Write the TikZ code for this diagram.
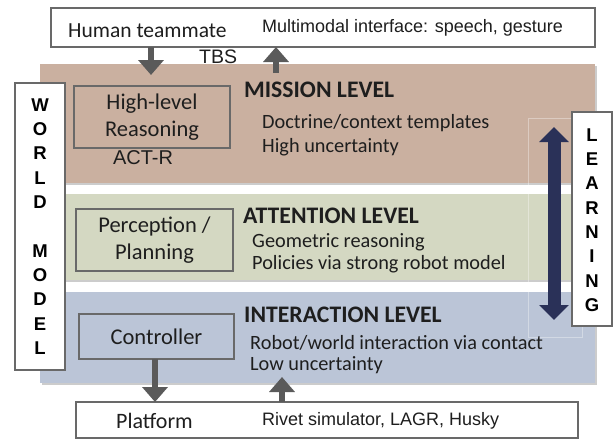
\documentclass[tikz,border=0pt]{standalone}
\usepackage{fontspec}
\setmainfont{Liberation Sans}
\newfontfamily\calfont{Carlito}
\usetikzlibrary{arrows.meta,shadows}

\definecolor{missionfill}{RGB}{202,176,160}
\definecolor{attentionfill}{RGB}{212,216,194}
\definecolor{interactionfill}{RGB}{187,197,215}
\definecolor{framegray}{RGB}{105,105,105}
\definecolor{arrowgray}{RGB}{90,90,90}
\definecolor{learnnavy}{RGB}{42,49,88}
\definecolor{inktext}{RGB}{30,30,30}

\tikzset{
  band/.style={draw=none, inner sep=0pt, outer sep=0pt, anchor=north west,
    drop shadow={shadow xshift=1.5pt, shadow yshift=-2pt, opacity=0.2, fill=black}},
  whitebox/.style={draw=framegray, line width=1.4pt, fill=white, inner sep=0pt,
    outer sep=0pt, anchor=north west},
  unitbox/.style={draw=framegray, line width=1.4pt, inner sep=0pt, outer sep=0pt,
    anchor=north west},
  unitlabel/.style={font=\calfont\fontsize{22.5}{26.5}\selectfont, text=inktext,
    align=center, inner sep=0pt},
  leveltitle/.style={font=\calfont\bfseries\fontsize{23.7}{26}\selectfont,
    text=inktext, anchor=west, inner sep=0pt},
  leveltext/.style={font=\calfont\fontsize{20.3}{24}\selectfont, text=inktext,
    anchor=west, inner sep=0pt},
  arialtext/.style={font=\fontsize{18}{20}\selectfont, text=inktext, inner sep=0pt},
  calitext/.style={font=\calfont\fontsize{21.5}{24}\selectfont, text=inktext, inner sep=0pt},
  letters/.style={font=\bfseries\fontsize{18.5}{24.3}\selectfont, text=black,
    align=center, inner sep=0pt},
  blockarrow/.style={draw=arrowgray, line width=6pt,
    -{Triangle[width=25pt, length=15pt]}, arrowgray},
}

\begin{document}
\begin{tikzpicture}[x=1pt, y=-1pt]
\useasboundingbox (0,0) rectangle (613,439);

% the three abstraction levels
\node[band, fill=missionfill, minimum width=555pt, minimum height=119pt]
  (mission) at (40,64) {};
\node[band, fill=attentionfill, minimum width=555pt, minimum height=86pt]
  (attention) at (40,194) {};
\node[band, fill=interactionfill, minimum width=555pt, minimum height=91pt]
  (interaction) at (40,292) {};

% faint frame left behind around the learning arrow
\draw[white, opacity=0.35, line width=0.6pt] (528,118) rectangle (582,337);

% human interface and platform
\node[whitebox, minimum width=544pt, minimum height=39pt] (human) at (51,8) {};
\node[calitext, anchor=west] (humanlbl) at (68,31) {Human teammate};
\node[arialtext, anchor=west] (modal) at (262,28) {Multimodal interface: speech, gesture};
\node[arialtext, font=\fontsize{19.5}{22}\selectfont, anchor=west] (tbs) at (199,57) {TBS};

\node[whitebox, minimum width=502pt, minimum height=36pt] (platform) at (76,402) {};
\node[calitext, font=\calfont\fontsize{22}{24}\selectfont, anchor=west] (platlbl) at (116,421) {Platform};
\node[arialtext, anchor=west] (rivet) at (262,421) {Rivet simulator, LAGR, Husky};

% functional units inside each level
\node[unitbox, fill=missionfill, minimum width=156pt, minimum height=62pt] (reason) at (74,86) {};
\node[unitlabel] at (reason.center) {High-level\\Reasoning};
\node[arialtext, font=\fontsize{20}{22}\selectfont] (actr) at (143,158) {ACT-R};

\node[unitbox, fill=attentionfill, minimum width=157pt, minimum height=62pt] (percep) at (76,209) {};
\node[unitlabel] at (percep.center) {Perception /\\Planning};

\node[unitbox, fill=interactionfill, minimum width=155pt, minimum height=45pt] (control) at (79,314) {};
\node[unitlabel] at (control.center) {Controller};

% level titles and descriptions
\node[leveltitle] (missiont) at (244,90) {MISSION LEVEL};
\node[leveltext] at (262,123) {Doctrine/context templates};
\node[leveltext] at (262,147) {High uncertainty};

\node[leveltitle] (attentiont) at (243,216) {ATTENTION LEVEL};
\node[leveltext] at (252,242) {Geometric reasoning};
\node[leveltext] at (252,264) {Policies via strong robot model};

\node[leveltitle] (interactiont) at (244,315) {INTERACTION LEVEL};
\node[leveltext] at (250,343) {Robot/world interaction via contact};
\node[leveltext] at (250,365) {Low uncertainty};

% side columns
\node[whitebox, minimum width=50pt, minimum height=287pt] (world) at (15,83) {};
\node[letters, anchor=north] at (40,98.4) {W\\O\\R\\L\\D\\[24.3pt]M\\O\\D\\E\\L};

\node[whitebox, minimum width=40pt, minimum height=214pt] (learning) at (572,112) {};
\node[letters, anchor=north] at (592,128.4) {L\\E\\A\\R\\N\\I\\N\\G};

% information flow between levels
\coordinate (toMission) at (151,75);
\coordinate (fromMission) at (276,73);
\coordinate (toPlatform) at (155,402);
\coordinate (fromPlatform) at (282,377);
\draw[blockarrow] (human.south -| toMission) -- (toMission);
\draw[blockarrow] (fromMission) -- (human.south -| fromMission);
\draw[blockarrow] (control.south -| toPlatform) -- (toPlatform);
\draw[blockarrow] (platform.north -| fromPlatform) -- (fromPlatform);

% learning spans all levels
\coordinate (learnTop) at (554,127);
\coordinate (learnBot) at (554,320);
\draw[learnnavy, line width=13pt,
  {Triangle[width=29pt, length=15pt]}-{Triangle[width=29pt, length=15pt]}]
  (learnTop) -- (learnBot);
\end{tikzpicture}
\end{document}
